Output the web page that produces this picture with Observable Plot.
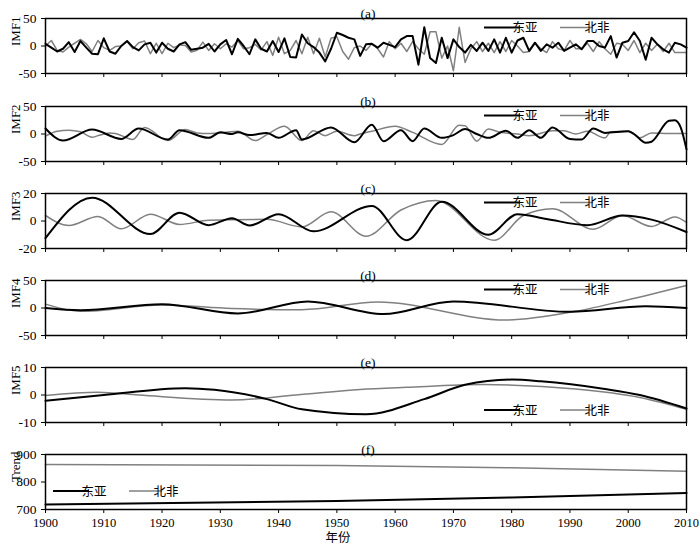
<!DOCTYPE html>
<html><head><meta charset="utf-8">
<script src="https://cdn.jsdelivr.net/npm/d3@7"></script>
<script src="https://cdn.jsdelivr.net/npm/@observablehq/plot@0.6"></script>
<style>
body{margin:0;background:#fff;}
#chart{position:relative;width:700px;height:546px;overflow:hidden;}
#chart svg{position:absolute;left:0;}
#chart svg text{font-family:'Liberation Serif','Noto Sans CJK SC',serif !important;}
#chart svg g[aria-label="x-axis tick label"] text{font-size:12.5px;}
#chart svg g[aria-label="y-axis tick label"] text{font-size:13.5px;}
</style></head><body><div id="chart"></div>
<script>
// ---------- data ----------
const years = d3.range(1900, 2011);
const seriesNames = ["东亚", "北非"];
const panelTitles = ["(a)", "(b)", "(c)", "(d)", "(e)", "(f)"];
const panelLabels = ["IMF1", "IMF2", "IMF3", "IMF4", "IMF5", "Trend"];
const xTickLabels = [1900, 1910, 1920, 1930, 1940, 1950, 1960, 1970, 1980, 1990, 2000, 2010];

const imf1EastAsia = [
  4, -3, -10, -5, 7, -11, 9, -3, -14, -15,
  14, -10, -14, 0, 9, -2, -8, 3, 6, -12,
  6, -5, -10, 3, 7, -7, -5, -3, 4, -10,
  3, 11, -15, 13, 0, -15, 12, -5, -10, 9,
  -11, 14, -20, -21, 21, 5, -2, -12, -28, -5,
  24, 20, 15, 12, -18, 3, 4, -3, 6, 2,
  -2, 12, 18, 18, -34, 34, -22, -31, 15, -22,
  12, -2, -12, 2, -9, 6, -9, 12, -12, 15,
  -12, 10, 15, -9, 6, -9, 3, -3, 6, -9,
  -3, 3, -6, 9, 9, 0, -3, 18, -21, 6,
  9, 25, 9, -25, 15, 3, -6, -12, 6, 3,
  -3
];
const imf1NorthAfrica = [
  0, 10, -8, -11, -2, 5, 12, 4, -10, 10,
  -3, -8, -1, 0, 8, -5, 6, 9, -14, 5,
  -14, 5, -3, 2, 1, -11, -8, 7, -8, 4,
  -5, 4, -2, 10, -5, -3, 3, -7, 8, -17,
  16, -14, -8, 10, -14, 16, -14, 14, -20, 14,
  17, -10, -24, -3, 0, -8, 4, -5, -20, 8,
  -5, 5, -10, 8, -5, -15, 26, 26, -22, 0,
  -45, 34, -30, -5, 8, -10, 5, -12, 8, -10,
  10, 0, -12, -10, 5, -5, -12, 8, -5, -8,
  10, -5, -5, 5, -10, 8, -5, -15, 5, 3,
  -8, 10, -12, 5, -8, 3, -10, 5, -12, -12,
  -12
];

const imf2EastAsiaYears = [1900,1903,1908,1913,1916,1921,1923,1928,1930,1932,1933,1935,1938,1940,1943,1944,1949,1953,1956,1958,1961,1963,1965,1968,1970,1972,1974,1976,1979,1981,1983,1985,1987,1990,1992,1994,1996,2000,2001,2003,2004,2007,2008,2009,2010];
const imf2EastAsia = [10,-12,8,-9,10,-10,7,-7,3,0,3,-2,2,-7,7,-10,12,-15,17,-13,7,-13,10,-7,-2,9,0,-7,6,-7,7,-7,12,-9,-10,10,2,5,0,-16,-14,24,25,12,-28];
const imf2NorthAfricaYears = [1900,1902,1904,1906,1908,1909,1911,1912,1915,1917,1921,1924,1926,1928,1931,1933,1936,1938,1941,1944,1946,1948,1950,1953,1954,1956,1960,1963,1968,1971,1972,1974,1976,1978,1981,1983,1987,1989,1991,1993,1996,1997,2000,2002,2004,2007,2010];
const imf2NorthAfrica = [-4,5,7,4,-6,-3,2,1,-10,12,-12,8,2,1,3,5,-12,-1,14,-12,6,-3,5,-3,0,5,14,3,-19,16,15,-13,9,3,0,-3,6,6,0,5,-7,4,5,-7,2,1,1];

const imf3EastAsiaYears = [1900,1908,1918,1923,1928,1932,1935,1940,1946,1956,1962,1968,1976,1981,1986,1993,1999,2004,2010];
const imf3EastAsia = [-12.5,17,-9.5,6,-3,2,-3.3,5,-7.5,11,-14,14,-10,5,1.5,-3,4,1,-8];
const imf3NorthAfricaYears = [1900,1904,1909,1913,1918,1923,1928,1938,1944,1949,1955,1961,1967,1977,1982,1987,1994,1999,2004,2008,2010];
const imf3NorthAfrica = [4,-3.3,3.3,-5.7,5,-2.5,0.5,1.2,-4.3,6.7,-11,8,15,-14,4,9,-6,4,-4,3,-1];

const imf4EastAsiaYears = [1900,1906,1920,1933,1945,1958,1970,1990,2003,2010];
const imf4EastAsia = [0,-4,7,-10,12,-11,12,-7,3,0];
const imf4NorthAfricaYears = [1900,1906,1920,1932,1944,1957,1979,1991,2000,2010];
const imf4NorthAfrica = [7,-6,5.5,-1,-3,11,-22,-6,15,41];

const imf5EastAsiaYears = [1900,1910,1924,1929,1938,1944,1955,1965,1972,1980,1985,1996,2002,2010];
const imf5EastAsia = [-2.1,0,2.5,1.9,-1.5,-5.2,-7,-1.5,3.7,5.6,5,2.2,0,-4.9];
const imf5NorthAfricaYears = [1900,1909,1916,1932,1943,1954,1962,1975,1991,2002,2010];
const imf5NorthAfrica = [-0.2,1,0,-1.8,0,2,2.8,3.8,2.2,-0.9,-5.2];

const trendYears = [1900,1950,1980,2010];
const trendEastAsia = [718,731,744,760];
const trendNorthAfrica = [863.6,860,851.5,839];

const yDomains = [[-50,50],[-50,50],[-20,20],[-50,50],[-10,10],[700,900]];

// ---------- helpers ----------
const FONT = "'Liberation Serif','Noto Sans CJK SC',serif";
const COLORS = ["#000000", "#808080"];
const WIDTHS = [2, 1.5];
const pts = (xs, ys) => xs.map((x, i) => ({year: x, value: ys[i]}));

const panels = [
  {ea: pts(years, imf1EastAsia), na: pts(years, imf1NorthAfrica), curve: "linear", legend: "top"},
  {ea: pts(imf2EastAsiaYears, imf2EastAsia), na: pts(imf2NorthAfricaYears, imf2NorthAfrica), curve: "monotone-x", legend: "top"},
  {ea: pts(imf3EastAsiaYears, imf3EastAsia), na: pts(imf3NorthAfricaYears, imf3NorthAfrica), curve: "monotone-x", legend: "top"},
  {ea: pts(imf4EastAsiaYears, imf4EastAsia), na: pts(imf4NorthAfricaYears, imf4NorthAfrica), curve: "monotone-x", legend: "top"},
  {ea: pts(imf5EastAsiaYears, imf5EastAsia), na: pts(imf5NorthAfricaYears, imf5NorthAfrica), curve: "monotone-x", legend: "bottom"},
  {ea: pts(trendYears, trendEastAsia), na: pts(trendYears, trendNorthAfrica), curve: "monotone-x", legend: "left"}
];

function legendMark(kind) {
  return (index, scales, values, dim) => {
    const {width, height, marginLeft, marginRight, marginTop, marginBottom} = dim;
    let x0, y;
    if (kind === "top") { x0 = width - marginRight - 202; y = marginTop + 9.5; }
    else if (kind === "bottom") { x0 = width - marginRight - 202; y = height - marginBottom - 12; }
    else { x0 = marginLeft + 8; y = marginTop + 37; }
    const g = d3.create("svg:g").attr("font-family", FONT).attr("font-size", 12.5);
    seriesNames.forEach((name, i) => {
      const ox = x0 + i * 76;
      g.append("line").attr("x1", ox).attr("x2", ox + (i ? 33 : 36))
        .attr("y1", y).attr("y2", y).attr("stroke", COLORS[i]).attr("stroke-width", WIDTHS[i]);
      g.append("text").attr("x", ox + (i ? 37 : 41)).attr("y", y).attr("dy", "0.36em")
        .attr("fill", "black").text(name);
    });
    return g.node();
  };
}

const tops = [0, 88, 175, 262, 349, 436];
const chart = document.getElementById("chart");

panels.forEach((p, i) => {
  const last = i === panels.length - 1;
  const height = last ? 110 : 88;
  const svg = Plot.plot({
    width: 700,
    height,
    marginLeft: 45,
    marginRight: 14,
    marginTop: 18,
    marginBottom: height - 18 - 55,
    style: {fontFamily: FONT, fontSize: "13px", background: "transparent", overflow: "visible", color: "black"},
    x: {domain: [1900, 2010], ticks: 11, tickSize: 4, tickFormat: last ? (d => String(d)) : (() => ""), label: null},
    y: {domain: yDomains[i], ticks: 2, tickSize: 4, tickFormat: d => String(d), label: null},
    marks: [
      Plot.line(p.na, {x: "year", y: "value", stroke: COLORS[1], strokeWidth: WIDTHS[1], curve: p.curve}),
      Plot.line(p.ea, {x: "year", y: "value", stroke: COLORS[0], strokeWidth: WIDTHS[0], curve: p.curve}),
      Plot.frame({stroke: "black", strokeWidth: 1.5}),
      Plot.text([panelTitles[i]], {text: d => d, frameAnchor: "top", dy: -10, dx: 2, fontSize: 13.5, fill: "black"}),
      Plot.text([panelLabels[i]], {text: d => d, frameAnchor: "left", rotate: -90, dx: -30, fontSize: 13, fill: "black"}),
      ...(last ? [Plot.text(["年份"], {text: d => d, frameAnchor: "bottom", dy: 32, dx: -28, fontSize: 12.5, fill: "black"})] : []),
      legendMark(p.legend)
    ]
  });
  svg.style.top = tops[i] + "px";
  chart.appendChild(svg);
});
</script>
</body></html>
